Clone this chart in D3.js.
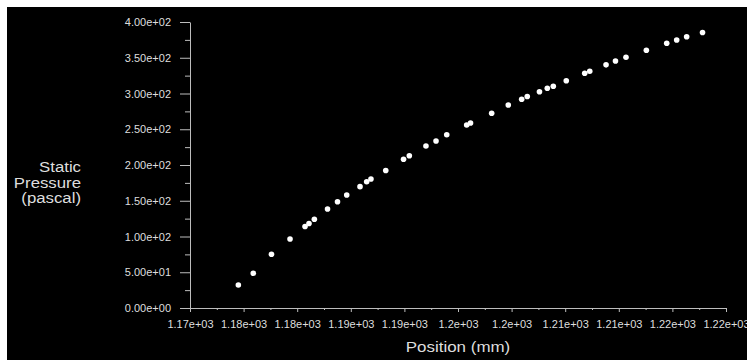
<!DOCTYPE html>
<html lang="en">
<head>
	<meta charset="utf-8">
	<title>Static Pressure vs Position</title>
	<script src="https://d3js.org/d3.v7.min.js"></script>
	<style type="text/css">
		body {
			margin: 0;
			background-color: #fff;
		}
		svg {
			display: block;
		}
		text {
			font-family: "Liberation Sans", Arial, sans-serif;
			fill: #dedede;
		}
	</style>
</head>
<body>
	<script type="text/javascript">

		//Data
		var positionMm = [1178.51, 1179.90, 1181.60, 1183.33, 1184.73, 1185.10, 1185.60, 1186.83,
			1187.76, 1188.62, 1189.86, 1190.48, 1190.88, 1192.26, 1193.92, 1194.46, 1196.01,
			1196.95, 1197.95, 1199.81, 1200.17, 1202.14, 1203.69, 1204.94, 1205.46, 1206.60,
			1207.33, 1207.89, 1209.10, 1210.82, 1211.29, 1212.81, 1213.69, 1214.67, 1216.57,
			1218.47, 1219.40, 1220.33, 1221.81];
		var pressurePa = [32.2, 48.5, 75.1, 96.5, 114.0, 118.2, 124.1, 138.5,
			148.7, 158.0, 169.7, 176.6, 180.4, 192.3, 208.0, 213.0, 226.6,
			233.6, 242.4, 255.9, 258.7, 272.3, 283.9, 291.9, 295.8, 302.5,
			307.3, 310.1, 317.9, 328.3, 331.2, 340.1, 345.5, 350.6, 360.4,
			370.2, 374.8, 379.4, 385.3];

		//Axis ticks
		var xTicks = [1174, 1179, 1184, 1189, 1194, 1199, 1204, 1209, 1214, 1219, 1224];
		var xTickLabels = ["1.17e+03", "1.18e+03", "1.18e+03", "1.19e+03", "1.19e+03", "1.2e+03",
			"1.2e+03", "1.21e+03", "1.21e+03", "1.22e+03", "1.22e+03"];
		var yTicks = [0, 50, 100, 150, 200, 250, 300, 350, 400];
		var yTickLabels = ["0.00e+00", "5.00e+01", "1.00e+02", "1.50e+02", "2.00e+02",
			"2.50e+02", "3.00e+02", "3.50e+02", "4.00e+02"];

		var w = 747;
		var h = 360;

		var svg = d3.select("body")
					.append("svg")
					.attr("width", w)
					.attr("height", h);

		//Black plot background with the thin white edge at top and left
		svg.append("rect")
		   .attr("x", 7)
		   .attr("y", 7)
		   .attr("width", w - 7)
		   .attr("height", h - 7)
		   .style("fill", "#000");

		var x = d3.scaleLinear().domain([1174, 1224]).range([190, 726]);
		var y = d3.scaleLinear().domain([0, 400]).range([308, 22]);

		var axisColor = "#bdbdbd";

		//Minor ticks
		var xMinor = xTicks.slice(0, -1).map(function(d) { return d + 2.5; });
		var yMinor = yTicks.slice(0, -1).map(function(d) { return d + 25; });

		svg.append("g")
		   .attr("transform", "translate(0,308)")
		   .call(d3.axisBottom(x).tickValues(xMinor).tickSize(2).tickSizeOuter(0).tickFormat(""))
		   .call(function(g) { g.select(".domain").remove(); });

		svg.append("g")
		   .attr("transform", "translate(190,0)")
		   .call(d3.axisLeft(y).tickValues(yMinor).tickSize(5).tickSizeOuter(0).tickFormat(""))
		   .call(function(g) { g.select(".domain").remove(); });

		//Major axes
		var xAxis = svg.append("g")
		   .attr("transform", "translate(0,308)")
		   .call(d3.axisBottom(x)
		   		.tickValues(xTicks)
		   		.tickSize(4)
		   		.tickSizeOuter(0)
		   		.tickPadding(8)
		   		.tickFormat(function(d, i) { return xTickLabels[i]; }));

		var yAxis = svg.append("g")
		   .attr("transform", "translate(190,0)")
		   .call(d3.axisLeft(y)
		   		.tickValues(yTicks)
		   		.tickSize(10)
		   		.tickSizeOuter(0)
		   		.tickPadding(9)
		   		.tickFormat(function(d, i) { return yTickLabels[i]; }));

		svg.selectAll(".tick line, .domain").style("stroke", axisColor);
		svg.selectAll(".tick text")
		   .style("font-family", "'Liberation Sans', Arial, sans-serif")
		   .style("font-size", "11px")
		   .style("fill", "#dedede");

		//Points
		svg.selectAll("circle")
		   .data(positionMm)
		   .enter()
		   .append("circle")
		   .attr("cx", function(d) { return x(d); })
		   .attr("cy", function(d, i) { return y(pressurePa[i]); })
		   .attr("r", 2.8)
		   .style("fill", "#fff");

		//Axis titles
		svg.append("text")
		   .attr("transform", "translate(458,352) scale(1.13,1)")
		   .attr("text-anchor", "middle")
		   .style("font-size", "15px")
		   .text("Position (mm)");

		var yTitle = ["Static", "Pressure", "(pascal)"];
		svg.selectAll(".ytitle")
		   .data(yTitle)
		   .enter()
		   .append("text")
		   .attr("class", "ytitle")
		   .attr("transform", function(d, i) { return "translate(81," + (172 + i * 15.5) + ") scale(1.12,1)"; })
		   .attr("text-anchor", "end")
		   .style("font-size", "15px")
		   .text(function(d) { return d; });

	</script>
</body>
</html>
